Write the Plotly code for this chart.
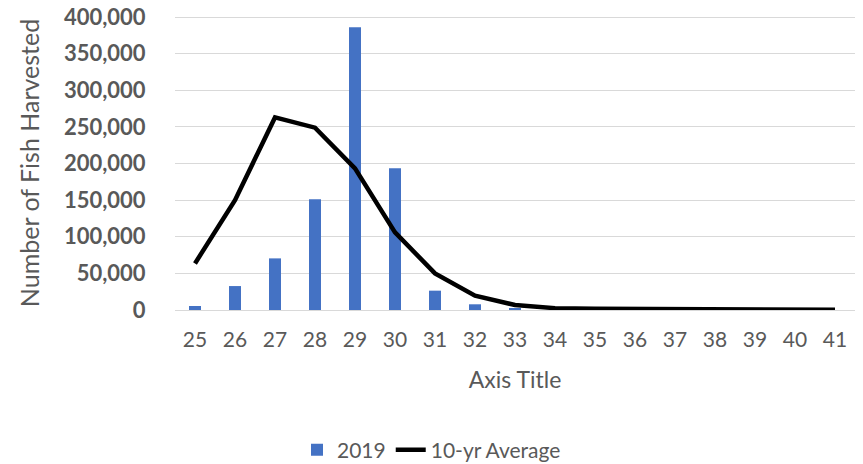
import plotly.graph_objects as go

# length classes (categories on the x axis)
lengths = ["25", "26", "27", "28", "29", "30", "31", "32", "33",
           "34", "35", "36", "37", "38", "39", "40", "41"]

# 2019 harvest (bars)
harvest_2019 = [5500, 32700, 70500, 151400, 386300, 193600, 26400, 7800, 2500,
                0, 0, 0, 0, 0, 0, 0, 0]

# 10-yr average (line)
avg_10yr = [63600, 150000, 263000, 249000, 193500, 106000, 50000, 19500, 6800,
            2500, 1800, 1500, 2200, 1700, 1300, 600, 300]

y_ticks = [0, 50000, 100000, 150000, 200000, 250000, 300000, 350000, 400000]

FONT = "Lato"
GREY = "#595959"

fig = go.Figure()

fig.add_trace(go.Bar(
    x=lengths,
    y=harvest_2019,
    name="2019",
    marker_color="#4472c4",
    marker_line_width=0,
))

fig.add_trace(go.Scatter(
    x=lengths,
    y=avg_10yr,
    name="10-yr Average",
    mode="lines",
    line=dict(color="black", width=4.5),
))

fig.update_layout(
    width=863,
    height=464,
    plot_bgcolor="white",
    paper_bgcolor="white",
    bargap=0.7,
    margin=dict(l=175, r=8, t=16, b=154, autoexpand=False),
    font=dict(family=FONT, color=GREY),
    showlegend=True,
    legend=dict(
        orientation="h",
        x=0.5, xanchor="center", xref="container",
        y=0.03, yanchor="middle", yref="container",
        font=dict(size=21, color=GREY),
        traceorder="normal",
    ),
    xaxis=dict(
        type="category",
        title=dict(text="Axis Title", font=dict(size=23, color=GREY), standoff=21),
        tickfont=dict(size=21, color=GREY),
        showgrid=False,
        showline=False,
        ticks="outside",
        ticklen=11,
        tickcolor="rgba(0,0,0,0)",
    ),
    yaxis=dict(
        range=[0, 401500],
        tickvals=y_ticks,
        tickformat=",",
        tickfont=dict(size=22, color=GREY, family=FONT, weight="bold"),
        title=dict(text="Number of Fish Harvested", font=dict(size=25, color=GREY), standoff=17),
        showgrid=True,
        gridcolor="#d9d9d9",
        gridwidth=1,
        zeroline=True,
        zerolinecolor="#d9d9d9",
        zerolinewidth=1,
        ticks="outside",
        ticklen=24,
        tickcolor="rgba(0,0,0,0)",
    ),
)

# drop the browser's default 8px body margin so the figure fills the window
fig.write_html(
    "out.html",
    config={"displayModeBar": False},
    post_script="document.body.style.margin = '0';",
)
